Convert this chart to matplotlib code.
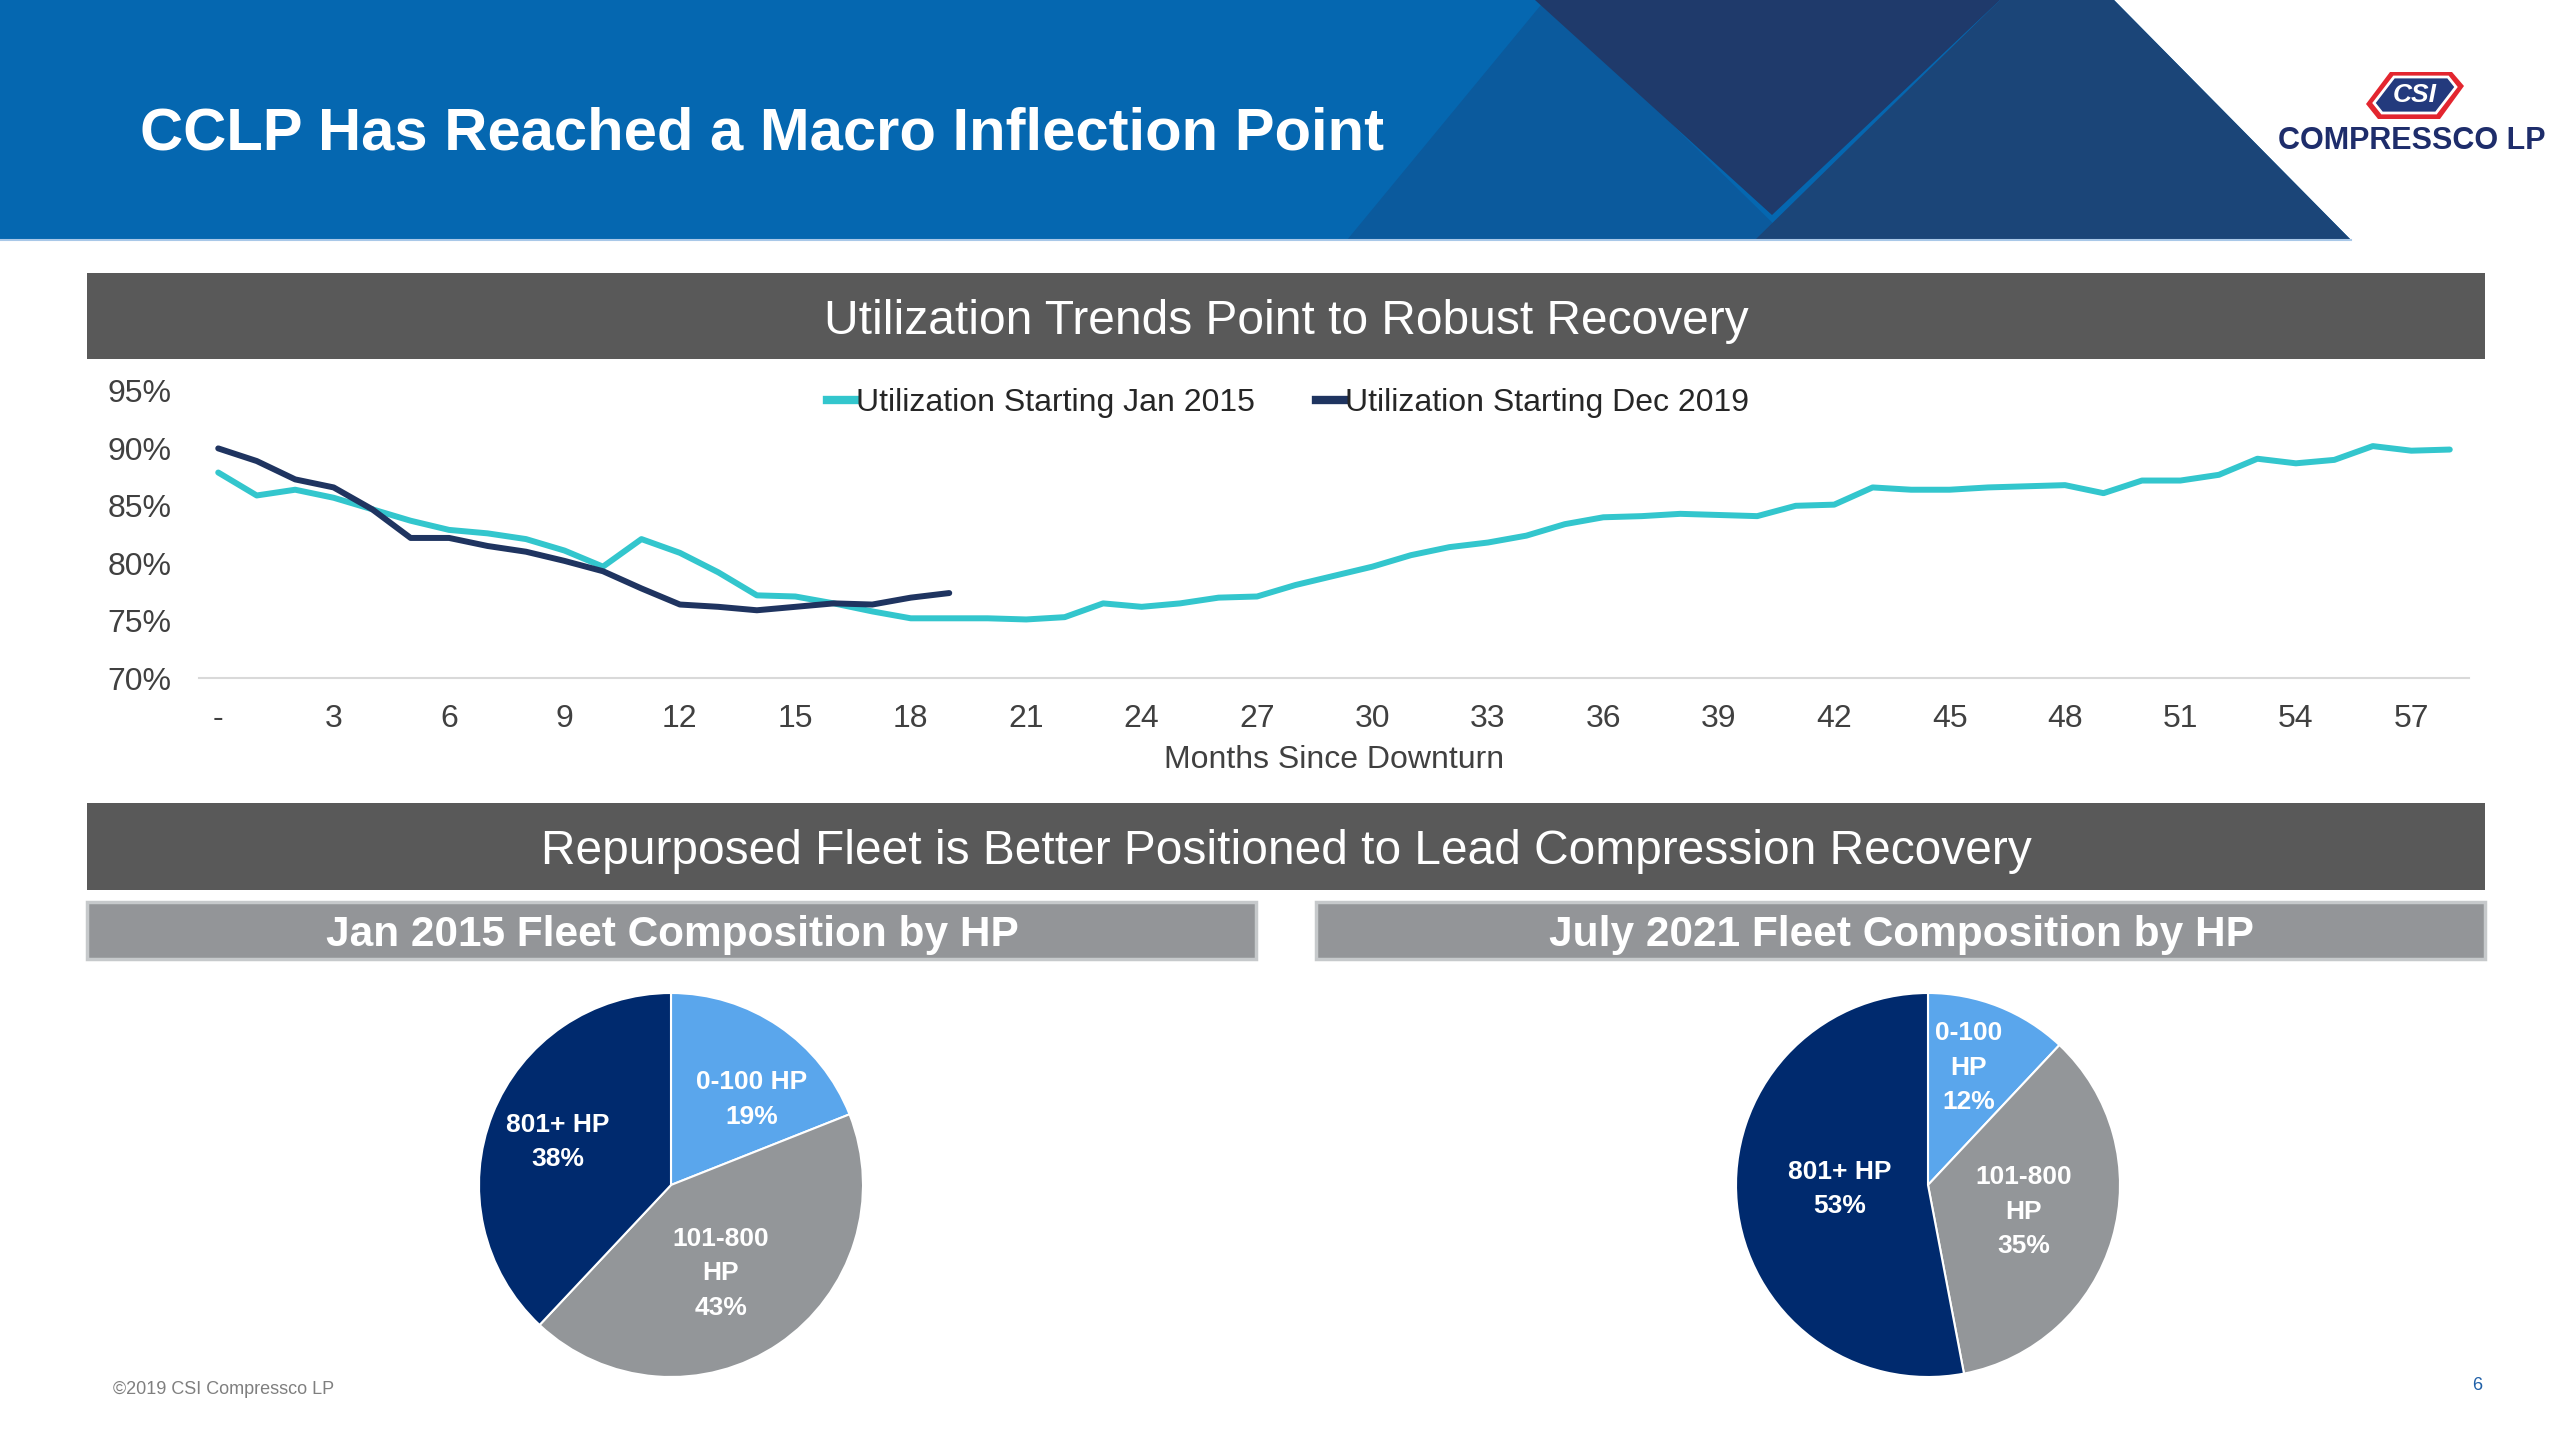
import matplotlib
matplotlib.use("Agg")
import matplotlib.pyplot as plt
from matplotlib.patches import Polygon, Rectangle
from matplotlib.lines import Line2D
import numpy as np

plt.rcParams['font.family'] = ['Liberation Sans', 'DejaVu Sans']

# Utilization data (percent), by months since downturn
util_jan2015 = [87.9, 85.9, 86.4, 85.7, 84.7, 83.7, 82.9, 82.6, 82.1, 81.1,
                79.7, 82.1, 80.9, 79.2, 77.2, 77.1, 76.5, 75.8, 75.2, 75.2,
                75.2, 75.1, 75.3, 76.5, 76.2, 76.5, 77.0, 77.1, 78.1, 78.9,
                79.7, 80.7, 81.4, 81.8, 82.4, 83.4, 84.0, 84.1, 84.3, 84.2,
                84.1, 85.0, 85.1, 86.6, 86.4, 86.4, 86.6, 86.7, 86.8, 86.1,
                87.2, 87.2, 87.7, 89.1, 88.7, 89.0, 90.2, 89.8, 89.9]
util_dec2019 = [90.0, 88.9, 87.3, 86.6, 84.7, 82.2, 82.2, 81.5, 81.0, 80.2,
                79.3, 77.8, 76.4, 76.2, 75.9, 76.2, 76.5, 76.4, 77.0, 77.4]
series_names = ['Utilization Starting Jan 2015', 'Utilization Starting Dec 2019']
tick_months = list(range(0, 58, 3))
tick_labels = ['-'] + [str(m) for m in tick_months[1:]]
y_ticks = [70, 75, 80, 85, 90, 95]

# Fleet composition by HP (percent)
fleet_2015 = [19, 43, 38]
fleet_2021 = [12, 35, 53]
labels_2015 = ['0-100 HP', '101-800\nHP', '801+ HP']
labels_2021 = ['0-100\nHP', '101-800\nHP', '801+ HP']

CYAN = '#33c6cd'
NAVY = '#1f3460'
PIE_COLORS = ['#5aa6ec', '#939699', '#002a6e']
TXT = '#404040'

W, H = 2560, 1440
fig = plt.figure(figsize=(25.6, 14.4), dpi=100)
fig.patch.set_facecolor('white')

# background / slide decoration in pixel coords
bg = fig.add_axes([0, 0, 1, 1])
bg.set_xlim(0, W)
bg.set_ylim(H, 0)
bg.axis('off')

bg.add_patch(Polygon([(0, 0), (2114, 0), (2351, 240), (0, 240)], color='#0567b0', lw=0))
bg.add_patch(Polygon([(1347, 240), (1545, 0), (1790, 240)], color='#0b5a9d', lw=0))
bg.add_patch(Polygon([(1535, 0), (2000, 0), (1772, 215)], color='#1f3a6b', lw=0))
bg.add_patch(Polygon([(1755, 240), (2000, 0), (2114, 0), (2351, 240)], color='#1b4578', lw=0))
bg.plot([0, 2351], [240, 240], color='#a9c8e8', lw=1.5)
bg.text(140, 134, 'CCLP Has Reached a Macro Inflection Point', color='white',
        fontsize=43, fontweight='bold', ha='left', va='center')

# logo
bg.add_patch(Polygon([(2390, 72), (2452, 72), (2464, 86), (2440, 119), (2378, 119), (2366, 104)],
                     color='#e3262f', lw=0))
bg.add_patch(Polygon([(2394, 77), (2448, 77), (2456, 87), (2436, 113), (2382, 113), (2374, 103)],
                     facecolor='#233a7d', edgecolor='white', lw=2))
bg.text(2415, 95, 'CSI', color='white', fontsize=19, fontweight='bold', style='italic',
        ha='center', va='center')
bg.text(2412, 141, 'COMPRESSCO LP', color='#1e2d6b', fontsize=22, fontweight='bold',
        ha='center', va='center')

# section bands
bg.add_patch(Rectangle((87, 273), 2398, 86, color='#595959', lw=0))
bg.text(1286, 322, 'Utilization Trends Point to Robust Recovery', color='white',
        fontsize=34.5, ha='center', va='center')
bg.add_patch(Rectangle((87, 803), 2398, 87, color='#595959', lw=0))
bg.text(1286, 852, 'Repurposed Fleet is Better Positioned to Lead Compression Recovery',
        color='white', fontsize=34.5, ha='center', va='center')

for x0, title in [(87, 'Jan 2015 Fleet Composition by HP'), (1316, 'July 2021 Fleet Composition by HP')]:
    bg.add_patch(Rectangle((x0, 902), 1169, 57, facecolor='#939598', edgecolor='#c6c9cb', lw=2.5))
    bg.text(x0 + 585, 935, title, color='white', fontsize=30.5, fontweight='bold',
            ha='center', va='center')

bg.text(113, 1389, '\u00a92019 CSI Compressco LP', color='#7f7f7f', fontsize=13, ha='left', va='center')
bg.text(2477, 1385, '6', color='#2060a8', fontsize=13, ha='center', va='center')

# line chart
ax = fig.add_axes([199 / W, 1 - 678 / H, (2469 - 199) / W, (678 - 391) / H])
months_a = np.arange(len(util_jan2015))
months_b = np.arange(len(util_dec2019))
ax.plot(months_a, util_jan2015, color=CYAN, lw=4.3, solid_capstyle='round', solid_joinstyle='round')
ax.plot(months_b, util_dec2019, color=NAVY, lw=4.3, solid_capstyle='round', solid_joinstyle='round')
ax.set_xlim(-0.5, 58.5)
ax.set_ylim(70, 95)
ax.set_xticks(tick_months)
ax.set_xticklabels(tick_labels)
ax.set_yticks(y_ticks)
ax.set_yticklabels([f'{v}%' for v in y_ticks])
for s in ['top', 'right', 'left']:
    ax.spines[s].set_visible(False)
ax.spines['bottom'].set_color('#d9d9d9')
ax.spines['bottom'].set_linewidth(1.5)
ax.tick_params(axis='x', length=0, labelsize=23, colors=TXT, pad=19)
ax.tick_params(axis='y', length=0, labelsize=23, colors=TXT, pad=20)
ax.set_xlabel('Months Since Downturn', fontsize=23, color=TXT, labelpad=8)
ax.set_facecolor('none')

handles = [Line2D([], [], color=CYAN, lw=6), Line2D([], [], color=NAVY, lw=6)]
fig.legend(handles, series_names, loc='center', bbox_to_anchor=(1288 / W, 1 - 403 / H),
           ncol=2, frameon=False, fontsize=23, handlelength=0.9, handletextpad=0.0,
           columnspacing=1.9, labelcolor='#262626')

# pies; label offsets are in units of the pie radius
def draw_pie(cx, cy, values, labels, label_xy):
    r = 192
    pa = fig.add_axes([(cx - r) / W, 1 - (cy + r) / H, 2 * r / W, 2 * r / H])
    wedges, _ = pa.pie(values, colors=PIE_COLORS, startangle=90, counterclock=False,
                       wedgeprops=dict(edgecolor='white', linewidth=1.5))
    pa.set_xlim(-1, 1)
    pa.set_ylim(-1, 1)
    for lab, v, (lx, ly) in zip(labels, values, label_xy):
        pa.text(lx, ly, f'{lab}\n{v}%', color='white', fontsize=19, fontweight='bold',
                ha='center', va='center', linespacing=1.55)

draw_pie(671, 1185, fleet_2015, labels_2015, [(0.42, 0.445), (0.26, -0.46), (-0.59, 0.225)])
draw_pie(1928, 1185, fleet_2021, labels_2021, [(0.21, 0.61), (0.50, -0.14), (-0.46, -0.02)])

fig.savefig('out.png', dpi=100)
